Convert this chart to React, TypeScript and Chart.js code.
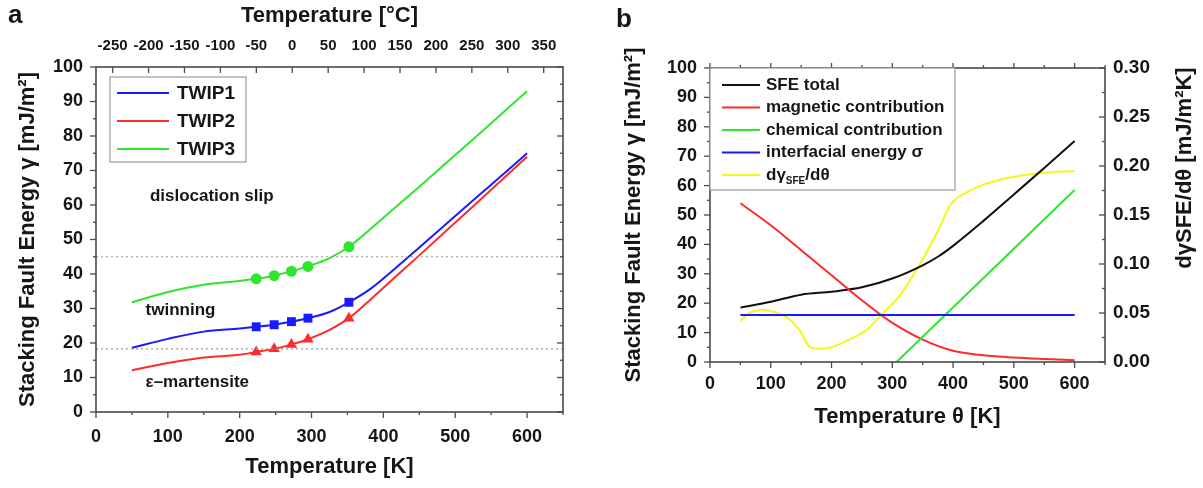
import React, { useEffect, useRef } from 'react';
import { Chart, registerables } from 'chart.js';
Chart.register(...registerables);

const FONT = '"Liberation Sans", Arial, Helvetica, sans-serif';
const INK = '#161616';
const AXIS = '#4a4a4a';
const BLUE = '#1a1aff';
const RED = '#ff2a2a';
const GREEN = '#2ee62e';
const BLACK = '#111111';
const YELLOW = '#f7f51e';

// ---------- Panel a data ----------
const kelvinTicksA = [0, 100, 200, 300, 400, 500, 600];
const celsiusTicksA = [-250, -200, -150, -100, -50, 0, 50, 100, 150, 200, 250, 300, 350];
const sfeTicks = [0, 10, 20, 30, 40, 50, 60, 70, 80, 90, 100];

const twip1K = [50, 100, 150, 200, 223, 248, 272, 295, 325, 352, 380, 400, 450, 500, 550, 600];
const twip1 = [18.6, 21.2, 23.3, 24.2, 24.7, 25.3, 26.2, 27.2, 29.0, 31.8, 35.4, 38.7, 47.7, 56.8, 65.9, 75.0];
const twip2K = [50, 100, 150, 200, 223, 248, 272, 295, 325, 352, 380, 400, 450, 500, 550, 600];
const twip2 = [12.1, 14.2, 15.8, 16.6, 17.4, 18.3, 19.6, 21.1, 23.8, 27.2, 32.2, 36.0, 45.4, 54.9, 64.4, 74.0];
const twip3K = [50, 100, 150, 200, 223, 248, 272, 295, 325, 352, 400, 450, 500, 550, 600];
const twip3 = [31.8, 34.8, 36.9, 38.0, 38.6, 39.5, 40.8, 42.2, 44.6, 47.9, 56.3, 65.3, 74.5, 83.7, 93.0];

const markerK = [223, 248, 272, 295, 352];
const twip1Markers = [24.7, 25.3, 26.2, 27.2, 31.8];
const twip2Markers = [17.4, 18.3, 19.6, 21.1, 27.2];
const twip3Markers = [38.6, 39.5, 40.8, 42.2, 47.9];

const boundaryK = [0, 650];
const slipTwinBoundary = [45, 45];
const twinMartBoundary = [18.3, 18.3];

const legendA = ['TWIP1', 'TWIP2', 'TWIP3'];
const regimeLabels = ['dislocation slip', 'twinning', 'ε–martensite'];
const regimeK = [75, 69, 69];
const regimeSfe = [62.5, 29.5, 8.5];

// ---------- Panel b data ----------
const kelvinTicksB = [0, 100, 200, 300, 400, 500, 600];
const derivTicks = [0, 0.05, 0.1, 0.15, 0.2, 0.25, 0.3];

const totalK = [50, 100, 150, 200, 250, 300, 350, 375, 400, 450, 500, 550, 600];
const totalSfe = [18.5, 20.5, 22.9, 23.9, 25.4, 28.4, 32.9, 35.8, 39.5, 48.0, 57.0, 66.0, 75.2];
const magK = [50, 100, 150, 200, 250, 280, 300, 350, 400, 450, 500, 550, 600];
const magSfe = [54, 46.5, 38, 29.5, 21, 16.2, 13.3, 7.6, 3.8, 2.3, 1.5, 1.0, 0.6];
const chemK = [307, 600];
const chemSfe = [0, 58.5];
const interK = [50, 600];
const interSfe = [16, 16];
const derivK = [50, 65, 85, 100, 130, 150, 163, 178, 200, 230, 260, 280, 310, 335, 360, 380, 395, 425, 450, 500, 550, 600];
const derivVal = [0.042, 0.05, 0.053, 0.052, 0.044, 0.03, 0.016, 0.0135, 0.015, 0.023, 0.034, 0.047, 0.066, 0.089, 0.116, 0.14, 0.16, 0.174, 0.181, 0.189, 0.193, 0.195];

const legendB = ['SFE total', 'magnetic contribution', 'chemical contribution', 'interfacial energy σ'];

const xy = (xs: number[], ys: number[]) => xs.map((x, i) => ({ x, y: ys[i] }));

const curve = (label: string, xs: number[], ys: number[], color: string, extra: any = {}) => ({
  label,
  data: xy(xs, ys),
  showLine: true,
  borderColor: color,
  backgroundColor: color,
  borderWidth: 2,
  pointRadius: 0,
  cubicInterpolationMode: 'monotone',
  fill: false,
  ...extra,
});

const markers = (label: string, ys: number[], color: string, style: string, r: number) => ({
  label,
  data: xy(markerK, ys),
  showLine: false,
  pointStyle: style,
  pointRadius: r,
  backgroundColor: color,
  borderColor: color,
  borderWidth: 0,
});

function seg(ctx: CanvasRenderingContext2D, x1: number, y1: number, x2: number, y2: number) {
  ctx.beginPath();
  ctx.moveTo(x1, y1);
  ctx.lineTo(x2, y2);
  ctx.stroke();
}

const bold = (px: number) => `bold ${px}px ${FONT}`;

const plainTick = (px: number) => ({ font: { family: FONT, size: px, weight: 'bold' as const }, color: INK });

const frameA = {
  id: 'frameA',
  afterDraw(chart: any) {
    const { ctx, chartArea: ca, scales } = chart;
    const x = scales.x, y = scales.y, xt = scales.xTop;
    ctx.save();
    ctx.strokeStyle = AXIS;
    ctx.lineWidth = 1.6;
    ctx.strokeRect(ca.left, ca.top, ca.right - ca.left, ca.bottom - ca.top);
    ctx.lineWidth = 1.3;
    for (let v = 0; v <= 100; v += 5) {
      const py = y.getPixelForValue(v);
      const major = v % 10 === 0;
      seg(ctx, ca.left - (major ? 6 : 3), py, ca.left, py);
      seg(ctx, ca.right - (major ? 6 : 3), py, ca.right, py);
    }
    for (let v = 0; v <= 650; v += 50) {
      const px = x.getPixelForValue(v);
      const major = v % 100 === 0;
      seg(ctx, px, ca.bottom, px, ca.bottom + (major ? 6 : 3));
    }
    for (const c of celsiusTicksA) {
      const px = xt.getPixelForValue(c);
      seg(ctx, px, ca.top, px, ca.top + 6);
    }
    // legend
    ctx.fillStyle = '#ffffff';
    ctx.fillRect(110, 77, 136, 85);
    ctx.strokeStyle = '#9a9a9a';
    ctx.lineWidth = 1.2;
    ctx.strokeRect(110, 77, 136, 85);
    const cols = [BLUE, RED, GREEN];
    ctx.font = bold(19);
    ctx.textBaseline = 'middle';
    ctx.textAlign = 'left';
    legendA.forEach((t, i) => {
      const ly = 93 + i * 28;
      ctx.strokeStyle = cols[i];
      ctx.lineWidth = 2;
      seg(ctx, 117, ly, 169, ly);
      ctx.fillStyle = INK;
      ctx.fillText(t, 177, ly + 1);
    });
    // regime labels
    ctx.font = bold(17);
    regimeLabels.forEach((t, i) => {
      ctx.fillText(t, x.getPixelForValue(regimeK[i]), y.getPixelForValue(regimeSfe[i]));
    });
    // titles
    ctx.fillStyle = INK;
    ctx.font = bold(26);
    ctx.textAlign = 'left';
    ctx.textBaseline = 'alphabetic';
    ctx.fillText('a', 8, 23);
    ctx.font = bold(22);
    ctx.textAlign = 'center';
    ctx.textBaseline = 'middle';
    const cx = (ca.left + ca.right) / 2;
    ctx.fillText('Temperature [°C]', cx, 16);
    ctx.fillText('Temperature [K]', cx, 467);
    ctx.save();
    ctx.translate(28, (ca.top + ca.bottom) / 2);
    ctx.rotate(-Math.PI / 2);
    ctx.fillText('Stacking Fault Energy γ [mJ/m²]', 0, 0);
    ctx.restore();
    ctx.restore();
  },
};

const frameB = {
  id: 'frameB',
  afterDraw(chart: any) {
    const { ctx, chartArea: ca, scales } = chart;
    const x = scales.x, y = scales.y, y2 = scales.y2;
    ctx.save();
    ctx.strokeStyle = AXIS;
    ctx.lineWidth = 1.6;
    ctx.strokeRect(ca.left, ca.top, ca.right - ca.left, ca.bottom - ca.top);
    ctx.lineWidth = 1.3;
    for (let v = 0; v <= 100; v += 5) {
      const py = y.getPixelForValue(v);
      const major = v % 10 === 0;
      seg(ctx, ca.left - (major ? 6 : 3), py, ca.left, py);
    }
    for (let i = 0; i <= 12; i++) {
      const v = i * 0.025;
      const py = y2.getPixelForValue(v);
      const major = i % 2 === 0;
      seg(ctx, ca.right - (major ? 6 : 3), py, ca.right, py);
    }
    for (let v = 0; v <= 650; v += 50) {
      const px = x.getPixelForValue(v);
      const major = v % 100 === 0;
      seg(ctx, px, ca.bottom, px, ca.bottom + (major ? 6 : 3));
      seg(ctx, px, ca.top, px, ca.top - (major ? 5 : 3));
    }
    // legend
    const lx = ca.left, ly0 = ca.top;
    ctx.fillStyle = '#ffffff';
    ctx.fillRect(lx, ly0, 245, 122);
    ctx.strokeStyle = '#9a9a9a';
    ctx.lineWidth = 1.2;
    ctx.strokeRect(lx, ly0, 245, 122);
    const cols = [BLACK, RED, GREEN, BLUE, YELLOW];
    ctx.textBaseline = 'middle';
    ctx.textAlign = 'left';
    for (let i = 0; i < 5; i++) {
      const ly = ly0 + 17 + i * 22.5;
      ctx.strokeStyle = cols[i];
      ctx.lineWidth = 2;
      seg(ctx, lx + 12, ly, lx + 50, ly);
      ctx.fillStyle = INK;
      ctx.font = bold(17);
      if (i < 4) {
        ctx.fillText(legendB[i], lx + 56, ly);
      } else {
        ctx.fillText('dγ', lx + 56, ly);
        const w1 = ctx.measureText('dγ').width;
        ctx.font = bold(10);
        ctx.fillText('SFE', lx + 56 + w1, ly + 6);
        const w2 = ctx.measureText('SFE').width;
        ctx.font = bold(17);
        ctx.fillText('/dθ', lx + 56 + w1 + w2, ly);
      }
    }
    // titles
    ctx.fillStyle = INK;
    ctx.font = bold(26);
    ctx.textAlign = 'left';
    ctx.textBaseline = 'alphabetic';
    ctx.fillText('b', 16, 27);
    ctx.font = bold(22);
    ctx.textAlign = 'center';
    ctx.textBaseline = 'middle';
    ctx.fillText('Temperature θ [K]', (ca.left + ca.right) / 2, 417);
    ctx.save();
    ctx.translate(34, (ca.top + ca.bottom) / 2);
    ctx.rotate(-Math.PI / 2);
    ctx.fillText('Stacking Fault Energy γ [mJ/m²]', 0, 0);
    ctx.restore();
    ctx.save();
    ctx.translate(585, 168);
    ctx.rotate(-Math.PI / 2);
    ctx.fillText('dγSFE/dθ [mJ/m²K]', 0, 0);
    ctx.restore();
    ctx.restore();
  },
};

const noGrid = { display: false, drawTicks: false };
const noBorder = { display: false };

function makeChartA(canvas: HTMLCanvasElement) {
  return new Chart(canvas, {
    type: 'scatter',
    data: {
      datasets: [
        curve('slip/twin', boundaryK, slipTwinBoundary, '#9a9a9a', { borderWidth: 1.2, borderDash: [2, 3], cubicInterpolationMode: 'default' }),
        curve('twin/mart', boundaryK, twinMartBoundary, '#9a9a9a', { borderWidth: 1.2, borderDash: [2, 3], cubicInterpolationMode: 'default' }),
        curve('TWIP3', twip3K, twip3, GREEN),
        curve('TWIP1', twip1K, twip1, BLUE),
        curve('TWIP2', twip2K, twip2, RED),
        markers('TWIP3 pts', twip3Markers, GREEN, 'circle', 5.5),
        markers('TWIP1 pts', twip1Markers, BLUE, 'rect', 6.3),
        markers('TWIP2 pts', twip2Markers, RED, 'triangle', 6.5),
      ] as any,
    },
    options: {
      responsive: false,
      animation: false,
      devicePixelRatio: 1,
      events: [],
      layout: { padding: { left: 0, right: 37, top: 0, bottom: 0 } },
      plugins: { legend: { display: false }, tooltip: { enabled: false } },
      scales: {
        x: {
          type: 'linear',
          position: 'bottom',
          min: 0,
          max: 650,
          afterBuildTicks: (s: any) => { s.ticks = kelvinTicksA.map((v) => ({ value: v })); },
          afterFit: (s: any) => { s.height = 76; },
          ticks: { ...plainTick(18), padding: 14, autoSkip: false, maxRotation: 0 },
          grid: noGrid,
          border: noBorder,
        },
        xTop: {
          type: 'linear',
          position: 'top',
          min: -273.15,
          max: 376.85,
          afterBuildTicks: (s: any) => { s.ticks = celsiusTicksA.map((v) => ({ value: v })); },
          afterFit: (s: any) => { s.height = 67; },
          ticks: { ...plainTick(15), padding: 12, autoSkip: false, maxRotation: 0 },
          grid: noGrid,
          border: noBorder,
        },
        y: {
          type: 'linear',
          position: 'left',
          min: 0,
          max: 100,
          afterBuildTicks: (s: any) => { s.ticks = sfeTicks.map((v) => ({ value: v })); },
          afterFit: (s: any) => { s.width = 96; },
          ticks: { ...plainTick(18), padding: 13 },
          grid: noGrid,
          border: noBorder,
        },
      } as any,
    },
    plugins: [frameA],
  } as any);
}

function makeChartB(canvas: HTMLCanvasElement) {
  return new Chart(canvas, {
    type: 'scatter',
    data: {
      datasets: [
        curve('interfacial energy σ', interK, interSfe, BLUE, { cubicInterpolationMode: 'default' }),
        curve('chemical contribution', chemK, chemSfe, GREEN, { cubicInterpolationMode: 'default' }),
        curve('magnetic contribution', magK, magSfe, RED),
        curve('SFE total', totalK, totalSfe, BLACK),
        curve('dγSFE/dθ', derivK, derivVal, YELLOW, { yAxisID: 'y2' }),
      ] as any,
    },
    options: {
      responsive: false,
      animation: false,
      devicePixelRatio: 1,
      events: [],
      layout: { padding: { left: 0, right: 0, top: 68, bottom: 0 } },
      plugins: { legend: { display: false }, tooltip: { enabled: false } },
      scales: {
        x: {
          type: 'linear',
          position: 'bottom',
          min: 0,
          max: 650,
          afterBuildTicks: (s: any) => { s.ticks = kelvinTicksB.map((v) => ({ value: v })); },
          afterFit: (s: any) => { s.height = 126; },
          ticks: { ...plainTick(18), padding: 11, autoSkip: false, maxRotation: 0 },
          grid: noGrid,
          border: noBorder,
        },
        y: {
          type: 'linear',
          position: 'left',
          min: 0,
          max: 100,
          afterBuildTicks: (s: any) => { s.ticks = sfeTicks.map((v) => ({ value: v })); },
          afterFit: (s: any) => { s.width = 110; },
          ticks: { ...plainTick(18), padding: 13 },
          grid: noGrid,
          border: noBorder,
        },
        y2: {
          type: 'linear',
          position: 'right',
          min: 0,
          max: 0.3,
          afterBuildTicks: (s: any) => { s.ticks = derivTicks.map((v) => ({ value: v })); },
          afterFit: (s: any) => { s.width = 98; },
          ticks: { ...plainTick(19), padding: 8, callback: (v: any) => Number(v).toFixed(2) },
          grid: noGrid,
          border: noBorder,
        },
      } as any,
    },
    plugins: [frameB],
  } as any);
}

export default function App() {
  const refA = useRef<HTMLCanvasElement>(null);
  const refB = useRef<HTMLCanvasElement>(null);
  useEffect(() => {
    const a = makeChartA(refA.current!);
    const b = makeChartB(refB.current!);
    return () => {
      a.destroy();
      b.destroy();
    };
  }, []);
  return (
    <div style={{ position: 'absolute', left: 0, top: 0, width: 1203, height: 488, background: '#ffffff', overflow: 'hidden' }}>
      <canvas ref={refA} width={600} height={488} style={{ position: 'absolute', left: 0, top: 0, width: 600, height: 488 }} />
      <canvas ref={refB} width={603} height={488} style={{ position: 'absolute', left: 600, top: 0, width: 603, height: 488 }} />
    </div>
  );
}
